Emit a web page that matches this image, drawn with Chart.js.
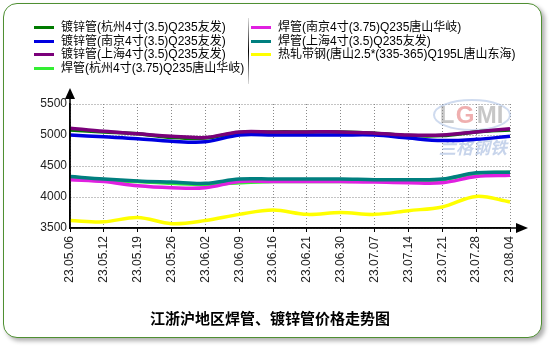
<!DOCTYPE html>
<html>
<head>
<meta charset="utf-8">
<script src="https://cdn.jsdelivr.net/npm/chart.js@4.4.0/dist/chart.umd.min.js"></script>
<style>
  body { margin: 0; background: #fff; font-family: "Liberation Sans", Arial, "Noto Sans CJK SC", sans-serif; }
  #wrap { position: relative; width: 550px; height: 350px; overflow: hidden; }
  #frame { position: absolute; left: 3px; top: 3px; width: 537px; height: 333px; border: 1.5px solid #4f8f32; border-radius: 14px; box-shadow: 3px 3px 4px #b0b0b0; background: #fff; }
  canvas { position: absolute; left: 0; top: 0; }
  .leg { position: absolute; font-size: 12px; line-height: 13.5px; color: #000; font-family: "Liberation Sans", Arial, "Noto Sans CJK SC", sans-serif; }
  .row { position: relative; height: 13.5px; white-space: nowrap; }
  .sw { position: absolute; top: 5px; width: 20px; height: 3px; }
  #sep { position: absolute; left: 248px; top: 18px; width: 1px; height: 66px; background: linear-gradient(#ddd, #000 50%, #ddd); }
  #title { position: absolute; left: 0; width: 540px; top: 307px; text-align: center; font-weight: bold; font-size: 15px; font-family: "Noto Sans CJK SC", sans-serif; }
</style>
</head>
<body>
<div id="wrap">
  <div id="frame"></div>
  <canvas id="priceChart" width="550" height="350"></canvas>
  <div id="sep"></div>
  <div class="leg" id="leg1" style="left:34px; top:21px;"></div>
  <div class="leg" id="leg2" style="left:251px; top:21px;"></div>
  <div id="title">江浙沪地区焊管、镀锌管价格走势图</div>
</div>
<script>
const dates = ['23.05.06','23.05.12','23.05.19','23.05.26','23.06.02','23.06.09','23.06.16','23.06.21','23.06.30','23.07.07','23.07.14','23.07.21','23.07.28','23.08.04'];

const hzGalv   = [5080,5050,5020,4960,4950,5040,5050,5050,5050,5030,4990,4990,5050,5080];
const njGalv   = [5000,4970,4940,4900,4890,5000,5000,5000,5000,5000,4950,4910,4930,4980];
const shGalv   = [5110,5060,5020,4980,4960,5050,5050,5050,5050,5030,5000,5000,5050,5100];
const hzWeld   = [4300,4260,4250,4220,4200,4230,4250,4250,4250,4260,4260,4280,4380,4400];
const njWeld   = [4280,4250,4180,4150,4150,4250,4250,4250,4250,4240,4230,4230,4330,4350];
const shWeld   = [4330,4290,4260,4240,4220,4290,4290,4290,4290,4280,4280,4290,4390,4400];
const hotStrip = [3620,3600,3670,3570,3620,3720,3790,3720,3750,3720,3780,3840,4010,3920];

const yTicks = [3500, 4000, 4500, 5000, 5500];

const series = [
  { name: '镀锌管(杭州4寸(3.5)Q235友发)', data: hzGalv, color: '#007a00', col: 1, order: 3 },
  { name: '镀锌管(南京4寸(3.5)Q235友发)', data: njGalv, color: '#0000e0', col: 1, order: 2 },
  { name: '镀锌管(上海4寸(3.5)Q235友发)', data: shGalv, color: '#7a007a', col: 1, order: 1 },
  { name: '焊管(杭州4寸(3.75)Q235唐山华岐)', data: hzWeld, color: '#33ee33', col: 1, order: 6 },
  { name: '焊管(南京4寸(3.75)Q235唐山华岐)', data: njWeld, color: '#e020e0', col: 2, order: 5 },
  { name: '焊管(上海4寸(3.5)Q235友发)', data: shWeld, color: '#007f7f', col: 2, order: 4 },
  { name: '热轧带钢(唐山2.5*(335-365)Q195L唐山东海)', data: hotStrip, color: '#ffff00', col: 2, order: 7 }
];

// html legend
series.forEach(s => {
  const row = document.createElement('div');
  row.className = 'row';
  row.innerHTML = '<span class="sw" style="left:0;background:' + s.color + '"></span><span style="position:absolute;left:27px">' + s.name + '</span>';
  document.getElementById(s.col === 1 ? 'leg1' : 'leg2').appendChild(row);
});

// arrows, axis lines, watermark
const extras = {
  id: 'extras',
  beforeDatasetsDraw(chart) {
    const c = chart.ctx;
    c.save();
    c.globalAlpha = 0.5;
    c.strokeStyle = '#9fb8e0';
    c.lineWidth = 2;
    c.beginPath();
    c.ellipse(472, 115, 38, 15, 0, 0, Math.PI * 2);
    c.stroke();
    c.font = 'bold 24px "Liberation Sans", Arial';
    c.textAlign = 'center';
    c.textBaseline = 'middle';
    c.fillStyle = '#909090';
    c.fillText('L', 447, 116);
    c.fillStyle = '#e06060';
    c.fillText('G', 465, 116);
    c.fillStyle = '#909090';
    c.fillText('MI', 490, 116);
    c.font = 'italic bold 17px "Noto Sans CJK SC"';
    c.fillStyle = '#8faad8';
    c.fillText('兰格钢铁', 473, 148);
    c.restore();
  },
  afterDraw(chart) {
    const c = chart.ctx;
    const a = chart.chartArea;
    c.save();
    c.strokeStyle = '#000';
    c.fillStyle = '#000';
    c.lineWidth = 1.5;
    c.beginPath();
    c.moveTo(a.left, a.bottom);
    c.lineTo(a.left, a.top - 8);
    c.moveTo(a.left, a.bottom);
    c.lineTo(a.right + 8, a.bottom);
    c.stroke();
    c.beginPath();
    c.moveTo(a.left, a.top - 16);
    c.lineTo(a.left - 5, a.top - 5);
    c.lineTo(a.left + 5, a.top - 5);
    c.closePath();
    c.fill();
    c.beginPath();
    c.moveTo(a.right + 18, a.bottom);
    c.lineTo(a.right + 6, a.bottom - 5);
    c.lineTo(a.right + 6, a.bottom + 5);
    c.closePath();
    c.fill();
    c.restore();
  }
};

const ctx = document.getElementById('priceChart').getContext('2d');

const priceChart = new Chart(ctx, {
  type: 'line',
  data: {
    labels: dates,
    datasets: series.map(s => ({
      label: s.name,
      data: s.data,
      borderColor: s.color,
      backgroundColor: s.color,
      borderWidth: 3.5,
      pointRadius: 0,
      tension: 0.35,
      fill: false,
      order: s.order
    }))
  },
  options: {
    responsive: false,
    animation: false,
    layout: { padding: { left: 18, right: 40, top: 104, bottom: 0 } },
    plugins: {
      legend: { display: false },
      tooltip: { enabled: false }
    },
    scales: {
      x: {
        afterFit: (scale) => { scale.height = 122; },
        grid: {
          color: '#888',
          drawTicks: true,
          tickLength: 4,
          tickColor: '#000'
        },
        border: { display: true, color: '#000', width: 1.5, dash: [1, 2] },
        ticks: {
          minRotation: 90,
          maxRotation: 90,
          padding: 4,
          color: '#222',
          font: { family: '"Liberation Sans", Arial', size: 12 }
        }
      },
      y: {
        min: yTicks[0],
        max: yTicks[yTicks.length - 1],
        afterFit: (scale) => { scale.width = 52; },
        afterBuildTicks: (scale) => { scale.ticks = yTicks.map(v => ({ value: v })); },
        grid: { color: '#888', drawTicks: false },
        border: { display: true, color: '#000', width: 1.5, dash: [1, 2] },
        ticks: {
          padding: 3,
          color: '#222',
          font: { family: '"Liberation Sans", Arial', size: 12 },
          callback: (v) => String(v)
        }
      }
    }
  },
  plugins: [extras]
});
</script>
</body>
</html>
